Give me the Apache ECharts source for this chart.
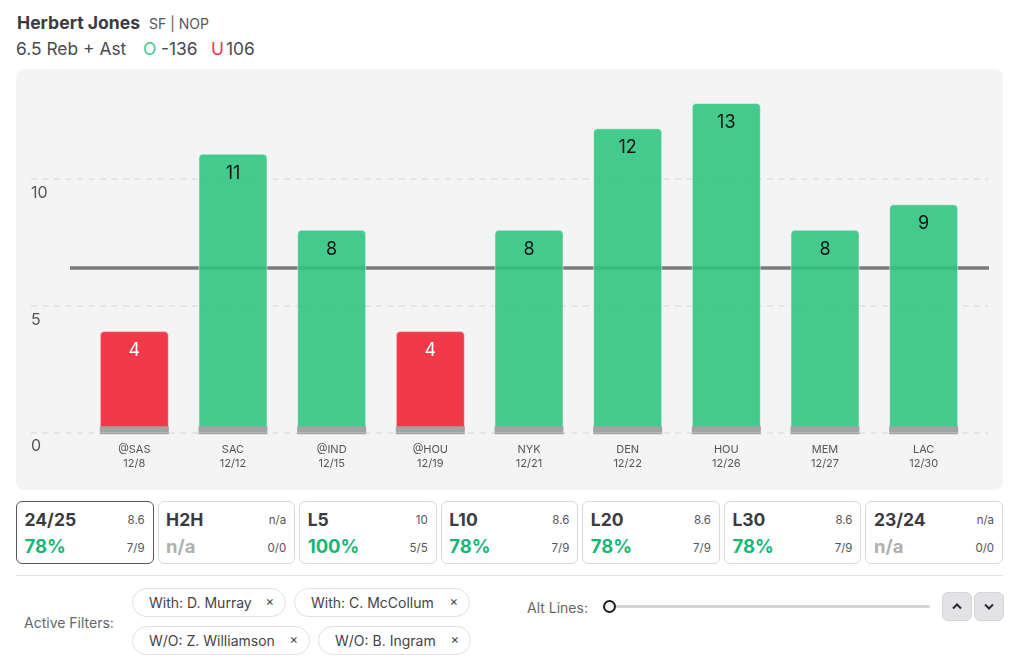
<!DOCTYPE html>
<html>
<head>
<meta charset="utf-8">
<script src="https://cdn.jsdelivr.net/npm/echarts@6/dist/echarts.min.js"></script>
<style>
  html, body { margin: 0; padding: 0; background: #fff; }
  body { width: 1024px; height: 660px; position: relative; overflow: hidden; font-family: Inter, sans-serif; color: #3b3b41; }
  .abs { position: absolute; white-space: nowrap; }
  #panel { position: absolute; left: 16px; top: 69px; width: 987px; height: 421px; background: #f4f4f4; border-radius: 8px; }
  #chart { position: absolute; left: 0; top: 0; width: 987px; height: 421px; }
  #cards { position: absolute; left: 16px; top: 501px; width: 987px; height: 63px; display: flex; gap: 4px; }
  .card { flex: 1; box-sizing: border-box; border: 1.5px solid #d9d9d9; border-radius: 6px; position: relative; }
  .card.on { border-color: #55555b; }
  .card .nm { position: absolute; left: 7.5px; top: 7px; font-size: 17.5px; font-weight: 700; }
  .card .pct { position: absolute; left: 7.5px; top: 33px; font-size: 18.5px; font-weight: 700; color: #14b876; }
  .card .pct.na { color: #b0b0b0; }
  .card .avg, .card .rec { position: absolute; right: 8px; font-size: 11.5px; color: #55555b; }
  .card .avg { top: 11px; }
  .card .rec { top: 39px; }
  #rule { position: absolute; left: 16px; top: 575px; width: 987px; height: 1px; background: #e4e4e4; }
  .chip { position: absolute; box-sizing: border-box; height: 29px; border: 1.5px solid #e0e0e0; border-radius: 15px; font-size: 14px; line-height: 27px; padding-left: 16px; color: #444449; white-space: nowrap; }
  .chip i { position: absolute; right: 11px; top: -1px; font-style: normal; font-size: 13px; color: #444449; }
  #track { position: absolute; left: 609px; top: 604.5px; width: 321px; height: 3.5px; background: #d5d5d8; border-radius: 2px; }
  #knob { position: absolute; left: 603px; top: 600px; width: 9px; height: 9px; border: 2px solid #1d1d20; border-radius: 50%; background: #f4f4f4; }
  .btn { position: absolute; top: 592px; width: 28px; height: 27px; background: #e3e3e5; border: 1px solid #d6d6d8; border-radius: 6px; }
  .btn svg { position: absolute; left: 8px; top: 8px; }
</style>
</head>
<body>
<div class="abs" style="left:17px;top:12px;font-size:17.6px;font-weight:700">Herbert Jones</div>
<div class="abs" style="left:149px;top:15px;font-size:14px;color:#55555b">SF | NOP</div>
<div class="abs" style="left:16px;top:38px;font-size:17.4px;color:#4a4a50">6.5 Reb + Ast</div>
<div class="abs" style="left:143px;top:38px;font-size:17.4px;color:#3fc98f">O</div>
<div class="abs" style="left:161px;top:38px;font-size:17.4px;color:#4a4a50">-136</div>
<div class="abs" style="left:211px;top:38px;font-size:17.4px;color:#f03b4a">U</div>
<div class="abs" style="left:226px;top:38px;font-size:17.4px;color:#4a4a50">106</div>

<div id="panel"><div id="chart"></div></div>
<div id="cards"></div>
<div id="rule"></div>

<div class="abs" style="left:24px;top:614px;font-size:14px;color:#66666b">Active Filters:</div>
<div id="chips"></div>
<div class="abs" style="left:527px;top:599px;font-size:14px;color:#66666b">Alt Lines:</div>
<div id="track"></div>
<div id="knob"></div>
<div class="btn" style="left:942px"><svg width="12" height="11" viewBox="0 0 12 11"><path d="M2 7.5 L6 3.5 L10 7.5" fill="none" stroke="#2a2a2e" stroke-width="2"/></svg></div>
<div class="btn" style="left:974px"><svg width="12" height="11" viewBox="0 0 12 11"><path d="M2 3.5 L6 7.5 L10 3.5" fill="none" stroke="#2a2a2e" stroke-width="2"/></svg></div>

<script>
var teams = ['@SAS', 'SAC', '@IND', '@HOU', 'NYK', 'DEN', 'HOU', 'MEM', 'LAC'];
var dates = ['12/8', '12/12', '12/15', '12/19', '12/21', '12/22', '12/26', '12/27', '12/30'];
var rebAst = [4, 11, 8, 4, 8, 12, 13, 8, 9];
var propLine = 6.5;
var stubAbove = [0.25, 0.25, 0.25, 0.25, 0.25, 0.25, 0.25, 0.25, 0.25];
var stubBelow = [-0.07, -0.07, -0.07, -0.07, -0.07, -0.07, -0.07, -0.07, -0.07];

var cardNames = ['24/25', 'H2H', 'L5', 'L10', 'L20', 'L30', '23/24'];
var cardAvgs = ['8.6', 'n/a', '10', '8.6', '8.6', '8.6', 'n/a'];
var cardPcts = ['78%', 'n/a', '100%', '78%', '78%', '78%', 'n/a'];
var cardRecs = ['7/9', '0/0', '5/5', '7/9', '7/9', '7/9', '0/0'];

var chipNames = ['With: D. Murray', 'With: C. McCollum', 'W/O: Z. Williamson', 'W/O: B. Ingram'];
var chipLeft = [132, 294, 132, 318];
var chipTop = [588, 588, 626, 626];
var chipWidth = [154, 176, 178, 153];

var cardsHtml = '';
cardNames.forEach(function (name, i) {
  cardsHtml += '<div class="card' + (i == 0 ? ' on' : '') + '">' +
    '<div class="nm">' + name + '</div>' +
    '<div class="avg">' + cardAvgs[i] + '</div>' +
    '<div class="pct' + (cardPcts[i] == 'n/a' ? ' na' : '') + '">' + cardPcts[i] + '</div>' +
    '<div class="rec">' + cardRecs[i] + '</div></div>';
});
document.getElementById('cards').innerHTML = cardsHtml;

var chipsHtml = '';
chipNames.forEach(function (name, i) {
  chipsHtml += '<div class="chip" style="left:' + chipLeft[i] + 'px;top:' + chipTop[i] + 'px;width:' + chipWidth[i] + 'px">' +
    name + '<i>\u00d7</i></div>';
});
document.getElementById('chips').innerHTML = chipsHtml;

var myChart = echarts.init(document.getElementById('chart'));

var barData = rebAst.map(function (v) {
  var over = v > propLine;
  return {
    value: v,
    itemStyle: { color: over ? 'rgba(44,196,126,0.88)' : 'rgba(240,50,66,0.96)' },
    label: { color: over ? '#111' : '#fff' }
  };
});

var hiddenY = { show: false, min: 0, max: 14, splitLine: { show: false } };

var option = {
  animation: false,
  textStyle: { fontFamily: 'Inter' },
  grid: [
    // gridlines + y labels, runs wider than the bars. stops at 10 so there is no extra line on top
    { left: 15, width: 957, top: 110, height: 253.5 },
    // prop line
    { left: 54, width: 919, top: 8.6, height: 354.9 },
    // bars, goes a touch below zero for the grey foot
    { left: 69, width: 888, top: 8.6, height: 356.7 }
  ],
  xAxis: [
    { gridIndex: 0, type: 'category', show: false, data: teams },
    { gridIndex: 1, type: 'category', show: false, data: teams },
    {
      gridIndex: 2,
      type: 'category',
      data: teams,
      axisLine: { show: false },
      axisTick: { show: false },
      axisLabel: {
        margin: 8,
        fontSize: 11,
        lineHeight: 14,
        color: '#55555b',
        formatter: function (val, i) { return val + '\n' + dates[i]; }
      }
    }
  ],
  yAxis: [
    {
      gridIndex: 0,
      type: 'value',
      min: 0,
      max: 10,
      interval: 5,
      axisLine: { show: false },
      axisTick: { show: false },
      axisLabel: {
        inside: true,
        margin: 0,
        fontSize: 16,
        color: '#55555b',
        verticalAlign: 'top',
        padding: [6, 0, 0, 0]
      },
      splitLine: { lineStyle: { color: '#e0e0e0', width: 1.5, type: [6, 5.5] } }
    },
    Object.assign({ gridIndex: 1, type: 'value' }, hiddenY),
    Object.assign({ gridIndex: 2, type: 'value' }, hiddenY, { min: -0.07 })
  ],
  series: [
    {
      type: 'bar',
      xAxisIndex: 1,
      yAxisIndex: 1,
      z: 1,
      data: [],
      silent: true,
      markLine: {
        symbol: 'none',
        silent: true,
        z: 1,
        label: { show: false },
        lineStyle: { color: '#7a7a7a', width: 3.5, type: 'solid' },
        data: [{ yAxis: propLine }]
      }
    },
    {
      type: 'bar',
      xAxisIndex: 2,
      yAxisIndex: 2,
      z: 3,
      barWidth: 69,
      barGap: '-100%',
      data: barData,
      itemStyle: { borderRadius: [4, 4, 0, 0], borderColor: 'rgba(255,255,255,0.45)', borderWidth: 1 },
      label: { show: true, position: 'insideTop', distance: 10.5, fontSize: 18 }
    },
    { type: 'bar', xAxisIndex: 2, yAxisIndex: 2, z: 4, barWidth: 69, barGap: '-100%', data: stubAbove, itemStyle: { color: '#a3a3a3' } },
    { type: 'bar', xAxisIndex: 2, yAxisIndex: 2, z: 4, barWidth: 69, barGap: '-100%', data: stubBelow, itemStyle: { color: '#a3a3a3' } }
  ]
};

myChart.setOption(option);
</script>
</body>
</html>
